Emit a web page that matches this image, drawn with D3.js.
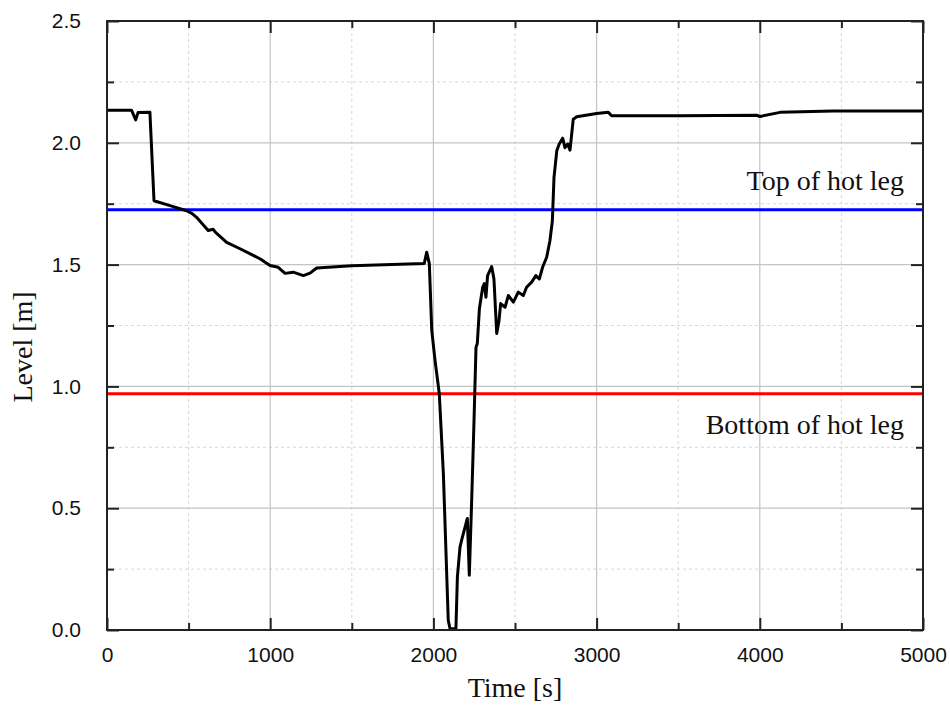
<!DOCTYPE html>
<html lang="en">
	<head>
		<meta charset="utf-8">
		<title>Level vs time</title>
		<script type="text/javascript" src="https://d3js.org/d3.v7.min.js"></script>
		<style type="text/css">
			body { margin: 0; background: #fff; }
		</style>
	</head>
	<body>
		<script type="text/javascript">

// SIZE
			var w = 950;
			var h = 706;
			var x0 = 107, x1 = 923;
			var y0 = 630, y1 = 21;

// DATA
			var time = [0, 150, 176, 190, 263, 288, 386, 488, 520, 549, 620, 650, 665, 733, 815, 937,
				999, 1049, 1091, 1141, 1203, 1244, 1285, 1500, 1944, 1959, 1975, 1990, 2010, 2036,
				2061, 2091, 2102, 2138, 2147, 2163, 2173, 2208, 2220, 2234, 2249, 2261, 2269, 2282,
				2302, 2312, 2322, 2332, 2357, 2371, 2388, 2402, 2412, 2439, 2459, 2490, 2520, 2551,
				2571, 2602, 2628, 2649, 2669, 2694, 2714, 2729, 2739, 2756, 2771, 2792, 2806, 2823,
				2837, 2857, 2878, 3000, 3072, 3092, 3511, 3981, 4001, 4124, 4449, 5000];
			var level = [2.134, 2.134, 2.094, 2.124, 2.125, 1.762, 1.742, 1.721, 1.71, 1.694, 1.64, 1.645, 1.632, 1.591, 1.565, 1.524,
				1.496, 1.489, 1.464, 1.469, 1.455, 1.465, 1.486, 1.495, 1.505, 1.551, 1.504, 1.23, 1.107, 0.971,
				0.643, 0.04, 0.005, 0.005, 0.218, 0.34, 0.369, 0.458, 0.225, 0.52, 0.861, 1.161, 1.176, 1.32,
				1.407, 1.422, 1.366, 1.455, 1.492, 1.441, 1.217, 1.27, 1.34, 1.325, 1.373, 1.346, 1.387, 1.373,
				1.407, 1.428, 1.455, 1.441, 1.489, 1.53, 1.598, 1.68, 1.858, 1.967, 1.995, 2.019, 1.98, 1.995,
				1.97, 2.097, 2.107, 2.12, 2.125, 2.111, 2.111, 2.113, 2.108, 2.125, 2.131, 2.131];

			var refNames = ["Top of hot leg", "Bottom of hot leg"];
			var refLevels = [1.725, 0.97];
			var refColors = ["#0000ff", "#ff0000"];

			var xTicks = [0, 1000, 2000, 3000, 4000, 5000];
			var xMinor = [500, 1500, 2500, 3500, 4500];
			var yTicks = [0, 0.5, 1.0, 1.5, 2.0, 2.5];
			var yMinor = [0.25, 0.75, 1.25, 1.75, 2.25];

// SCALES
			var X = d3.scaleLinear().domain([0, 5000]).range([x0, x1]);
			var Y = d3.scaleLinear().domain([0, 2.5]).range([y0, y1]);

			var svg = d3.select("body")
						.append("svg")
						.attr("width", w)
						.attr("height", h);

// GRID
			var grid = svg.append("g");
			grid.selectAll(".vmin").data(xMinor).enter().append("line")
				.attr("x1", function(d){ return X(d); }).attr("x2", function(d){ return X(d); })
				.attr("y1", y0).attr("y2", y1)
				.attr("stroke", "#d8d8d8").attr("stroke-dasharray", "3,3");
			grid.selectAll(".hmin").data(yMinor).enter().append("line")
				.attr("y1", function(d){ return Y(d); }).attr("y2", function(d){ return Y(d); })
				.attr("x1", x0).attr("x2", x1)
				.attr("stroke", "#d8d8d8").attr("stroke-dasharray", "3,3");
			grid.selectAll(".vmaj").data(xTicks).enter().append("line")
				.attr("x1", function(d){ return X(d); }).attr("x2", function(d){ return X(d); })
				.attr("y1", y0).attr("y2", y1)
				.attr("stroke", "#c4c4c4").attr("stroke-width", 1.2);
			grid.selectAll(".hmaj").data(yTicks).enter().append("line")
				.attr("y1", function(d){ return Y(d); }).attr("y2", function(d){ return Y(d); })
				.attr("x1", x0).attr("x2", x1)
				.attr("stroke", "#c4c4c4").attr("stroke-width", 1.2);

// REFERENCE LINES
			svg.selectAll(".ref").data(refLevels).enter().append("line")
				.attr("x1", x0).attr("x2", x1)
				.attr("y1", function(d){ return Y(d); }).attr("y2", function(d){ return Y(d); })
				.attr("stroke", function(d, i){ return refColors[i]; })
				.attr("stroke-width", 3);

			svg.selectAll(".reflabel").data(refNames).enter().append("text")
				.text(function(d){ return d; })
				.attr("x", x1 - 19)
				.attr("y", function(d, i){ return i == 0 ? Y(refLevels[i]) - 20 : Y(refLevels[i]) + 40; })
				.attr("text-anchor", "end")
				.attr("font-family", "Liberation Serif, Times New Roman, serif")
				.attr("font-size", "28px")
				.attr("fill", "#111");

// DATA LINE
			var pts = time.map(function(t, i){ return [t, level[i]]; });
			svg.append("path")
				.datum(pts)
				.attr("d", d3.line().x(function(d){ return X(d[0]); }).y(function(d){ return Y(d[1]); }))
				.attr("fill", "none")
				.attr("stroke", "#000")
				.attr("stroke-width", 3)
				.attr("stroke-linejoin", "round");

// AXES (ticks inward on all four sides)
			var tk = 12, tkm = 7;
			svg.append("g").attr("transform", "translate(0," + y0 + ")")
				.call(d3.axisBottom(X).tickValues(xTicks).tickSize(-tk).tickPadding(tk + 5).tickFormat(d3.format("d")));
			svg.append("g").attr("transform", "translate(0," + y1 + ")")
				.call(d3.axisTop(X).tickValues(xTicks).tickSize(-tk).tickFormat(""));
			svg.append("g").attr("transform", "translate(" + x0 + ",0)")
				.call(d3.axisLeft(Y).tickValues(yTicks).tickSize(-tk).tickPadding(tk + 14).tickFormat(d3.format(".1f")));
			svg.append("g").attr("transform", "translate(" + x1 + ",0)")
				.call(d3.axisRight(Y).tickValues(yTicks).tickSize(-tk).tickFormat(""));
			svg.append("g").attr("transform", "translate(0," + y0 + ")")
				.call(d3.axisBottom(X).tickValues(xMinor).tickSize(-tkm).tickFormat(""));
			svg.append("g").attr("transform", "translate(0," + y1 + ")")
				.call(d3.axisTop(X).tickValues(xMinor).tickSize(-tkm).tickFormat(""));
			svg.append("g").attr("transform", "translate(" + x0 + ",0)")
				.call(d3.axisLeft(Y).tickValues(yMinor).tickSize(-tkm).tickFormat(""));
			svg.append("g").attr("transform", "translate(" + x1 + ",0)")
				.call(d3.axisRight(Y).tickValues(yMinor).tickSize(-tkm).tickFormat(""));

			svg.selectAll(".domain").remove();
			svg.selectAll(".tick line").attr("stroke", "#222").attr("stroke-width", 2);
			svg.selectAll(".tick text")
				.attr("font-family", "Liberation Sans, Arial, sans-serif")
				.attr("font-size", "21px")
				.attr("fill", "#111");

// FRAME
			svg.append("rect")
				.attr("x", x0).attr("y", y1)
				.attr("width", x1 - x0).attr("height", y0 - y1)
				.attr("fill", "none")
				.attr("stroke", "#222")
				.attr("stroke-width", 2);

// AXIS TITLES
			svg.append("text")
				.text("Time [s]")
				.attr("x", (x0 + x1) / 2)
				.attr("y", 697)
				.attr("text-anchor", "middle")
				.attr("font-family", "Liberation Serif, Times New Roman, serif")
				.attr("font-size", "28px")
				.attr("fill", "#111");

			svg.append("text")
				.text("Level [m]")
				.attr("transform", "translate(32,347) rotate(-90)")
				.attr("text-anchor", "middle")
				.attr("font-family", "Liberation Serif, Times New Roman, serif")
				.attr("font-size", "28px")
				.attr("fill", "#111");

		</script>
	</body>
</html>
